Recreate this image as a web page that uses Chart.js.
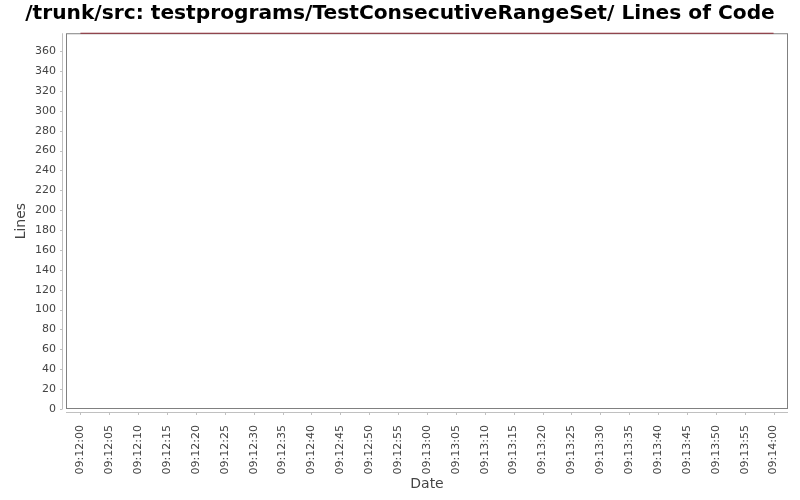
<!DOCTYPE html>
<html>
<head>
<meta charset="utf-8">
<script src="https://cdn.jsdelivr.net/npm/chart.js@4/dist/chart.umd.min.js"></script>
<style>
  html, body { margin: 0; padding: 0; background: #fff; }
  #wrap { width: 800px; height: 500px; }
</style>
</head>
<body>
<div id="wrap"><canvas id="myChart" width="800" height="500"></canvas></div>
<script>
// tick labels on the date axis
const timeLabels = ['09:12:00', '09:12:05', '09:12:10', '09:12:15', '09:12:20', '09:12:25',
    '09:12:30', '09:12:35', '09:12:40', '09:12:45', '09:12:50', '09:12:55', '09:13:00',
    '09:13:05', '09:13:10', '09:13:15', '09:13:20', '09:13:25', '09:13:30', '09:13:35',
    '09:13:40', '09:13:45', '09:13:50', '09:13:55', '09:14:00'];

// data points (time, lines)
const pointTimes = ['09:12:00', '09:14:00'];
const pointLines = [378, 378];

const yMax = 378;
const yStep = 20;

const tickFont = { family: 'DejaVu Sans', size: 11 };
const titleFont = { family: 'DejaVu Sans', size: 14 };

// plot frame + offset axis lines like the original
const framePlugin = {
    id: 'frame',
    beforeDatasetsDraw(chart) {
        const { ctx, chartArea: a, scales } = chart;
        ctx.save();
        ctx.lineWidth = 1;
        ctx.strokeStyle = '#c0c0c0';
        // y axis line and ticks
        ctx.beginPath();
        ctx.moveTo(a.left - 3.5, a.top);
        ctx.lineTo(a.left - 3.5, a.bottom);
        scales.y.ticks.forEach((t, i) => {
            const py = Math.round(scales.y.getPixelForTick(i)) + 0.5;
            ctx.moveTo(a.left - 3.5, py);
            ctx.lineTo(a.left - 6, py);
        });
        // x axis line and ticks
        ctx.moveTo(a.left, a.bottom + 3.5);
        ctx.lineTo(a.right, a.bottom + 3.5);
        scales.x.ticks.forEach((t, i) => {
            const px = Math.round(scales.x.getPixelForTick(i)) + 0.5;
            ctx.moveTo(px, a.bottom + 3.5);
            ctx.lineTo(px, a.bottom + 6);
        });
        ctx.stroke();
        ctx.strokeStyle = '#808080';
        ctx.strokeRect(a.left + 0.5, a.top + 0.5, a.right - a.left - 1, a.bottom - a.top - 1);
        ctx.restore();
    }
};

const ctx = document.getElementById('myChart').getContext('2d');

const myChart = new Chart(ctx, {
    type: 'line',
    data: {
        labels: timeLabels,
        datasets: [{
            label: 'Lines',
            data: pointTimes.map((t, i) => ({ x: t, y: pointLines[i] })),
            borderColor: '#8c2a35',
            borderWidth: 1.2,
            pointRadius: 0,
            fill: false,
            tension: 0,
            clip: false
        }]
    },
    options: {
        responsive: false,
        animation: false,
        layout: { padding: { left: 12, right: 12, top: 0, bottom: 0 } },
        plugins: {
            legend: { display: false },
            tooltip: { enabled: false },
            title: {
                display: true,
                text: '/trunk/src: testprograms/TestConsecutiveRangeSet/ Lines of Code',
                color: '#000',
                font: { family: 'DejaVu Sans', size: 20.2, weight: 'bold' },
                padding: { top: 2, bottom: 7 }
            }
        },
        scales: {
            x: {
                type: 'category',
                offset: true,
                grid: { display: true, drawOnChartArea: false, color: 'rgba(0,0,0,0)', tickLength: 6 },
                border: { display: false },
                ticks: {
                    autoSkip: false,
                    minRotation: 90,
                    maxRotation: 90,
                    padding: 10,
                    color: '#444',
                    font: tickFont
                },
                title: {
                    display: true,
                    text: 'Date',
                    color: '#444',
                    font: titleFont,
                    padding: { top: 0, bottom: 7 }
                },
                afterFit(scale) { scale.height = 91; }
            },
            y: {
                min: 0,
                max: yMax,
                grid: { display: true, drawOnChartArea: false, color: 'rgba(0,0,0,0)', tickLength: 6 },
                border: { display: false },
                ticks: {
                    stepSize: yStep,
                    includeBounds: false,
                    padding: 4,
                    color: '#444',
                    font: tickFont
                },
                title: {
                    display: true,
                    text: 'Lines',
                    color: '#444',
                    font: titleFont,
                    padding: { top: 1, bottom: 0 }
                },
                afterFit(scale) { scale.width = 54; }
            }
        }
    },
    plugins: [framePlugin]
});
</script>
</body>
</html>
